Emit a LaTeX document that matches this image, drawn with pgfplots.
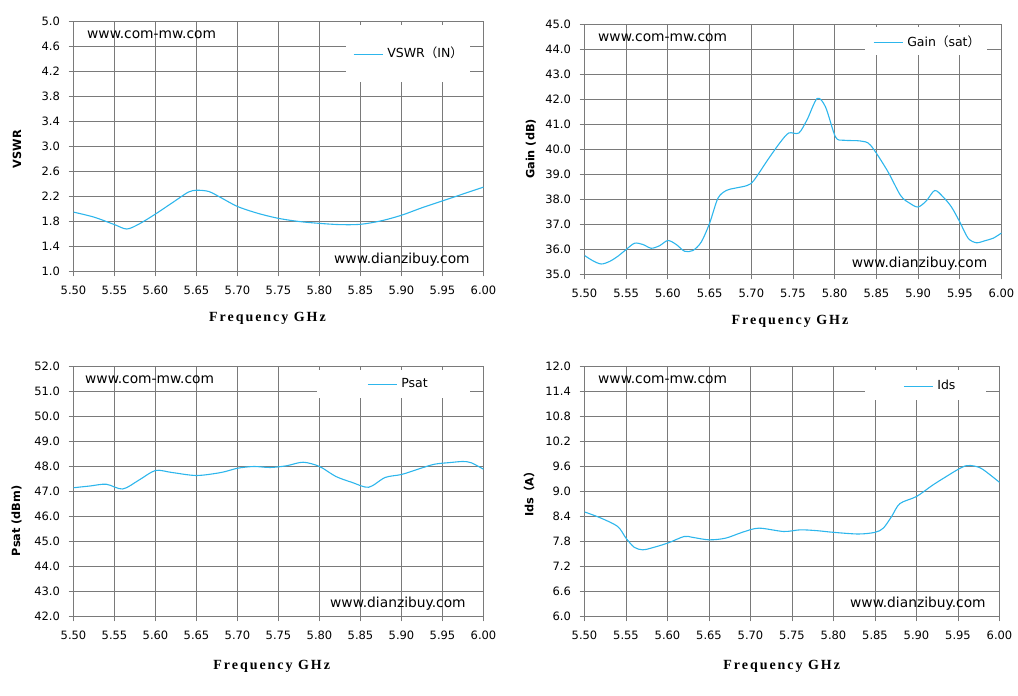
\documentclass[border=0pt]{standalone}
\usepackage{fontspec}
\usepackage{pgfplots}
\pgfplotsset{compat=1.18}
\setmainfont{DejaVu Sans}
\newfontfamily\cjk{Noto Sans CJK SC}
\newfontfamily\xlabfont[LetterSpace=14]{Liberation Serif}
\definecolor{curve}{HTML}{2DB6EC}
\definecolor{gridc}{HTML}{7A7A7A}

\pgfplotstableread{
f v
5.500 1.95
5.525 1.87
5.550 1.75
5.565 1.68
5.580 1.76
5.600 1.92
5.625 2.14
5.640 2.27
5.650 2.30
5.665 2.28
5.680 2.18
5.700 2.04
5.725 1.93
5.750 1.85
5.775 1.80
5.800 1.77
5.825 1.75
5.850 1.755
5.875 1.81
5.900 1.90
5.925 2.02
5.950 2.13
5.975 2.24
6.000 2.35
}\vswr

\pgfplotstableread{
f v
5.500 35.76
5.510 35.55
5.520 35.42
5.530 35.52
5.540 35.73
5.550 36.00
5.560 36.25
5.570 36.20
5.580 36.05
5.590 36.15
5.600 36.36
5.610 36.20
5.620 35.93
5.630 35.96
5.640 36.30
5.650 37.05
5.660 38.05
5.670 38.36
5.680 38.45
5.695 38.56
5.703 38.76
5.720 39.60
5.735 40.30
5.745 40.66
5.757 40.66
5.767 41.20
5.779 42.04
5.789 41.70
5.801 40.50
5.811 40.37
5.831 40.34
5.843 40.17
5.863 39.16
5.879 38.16
5.890 37.85
5.900 37.70
5.910 37.95
5.920 38.36
5.930 38.10
5.940 37.70
5.950 37.10
5.960 36.45
5.970 36.27
5.980 36.35
5.990 36.45
6.000 36.66
}\gain

\pgfplotstableread{
f v
5.500 47.15
5.520 47.22
5.540 47.29
5.560 47.10
5.580 47.46
5.600 47.84
5.620 47.76
5.650 47.64
5.680 47.76
5.700 47.93
5.720 48.00
5.740 47.96
5.760 48.03
5.780 48.17
5.800 48.00
5.820 47.60
5.840 47.36
5.860 47.17
5.880 47.56
5.900 47.68
5.920 47.89
5.940 48.09
5.960 48.16
5.975 48.20
5.985 48.15
6.000 47.89
}\psat

\pgfplotstableread{
f v
5.500 8.51
5.520 8.36
5.540 8.16
5.550 7.88
5.560 7.66
5.570 7.60
5.580 7.64
5.600 7.76
5.620 7.92
5.630 7.90
5.650 7.84
5.670 7.88
5.690 8.02
5.710 8.12
5.740 8.04
5.760 8.08
5.780 8.06
5.800 8.02
5.830 7.98
5.850 8.02
5.860 8.12
5.870 8.40
5.880 8.71
5.900 8.88
5.920 9.16
5.940 9.41
5.950 9.53
5.960 9.62
5.970 9.61
5.980 9.53
6.000 9.22
}\ids

\pgfplotsset{
  panel/.style={
    scale only axis, anchor=south west,
    xmin=5.5, xmax=6,
    xtick={5.5,5.55,5.6,5.65,5.7,5.75,5.8,5.85,5.9,5.95,6.0},
    x tick label style={/pgf/number format/fixed, /pgf/number format/fixed zerofill, /pgf/number format/precision=2, yshift=-6pt},
    y tick label style={/pgf/number format/fixed, /pgf/number format/fixed zerofill, /pgf/number format/precision=1, xshift=-5pt},
    /pgf/number format/assume math mode=true,
    tick label style={font=\fontsize{11.5}{13}\selectfont},
    grid=major, major grid style={gridc, line width=1pt},
    axis line style={gridc, line width=1pt},
    tick style={gridc, line width=1pt},
    tick align=outside, major tick length=5pt,
    xtick pos=left, ytick pos=left,
    legend cell align=left,
    legend style={draw=none, fill=none, inner sep=0pt, anchor=west,
      font=\fontsize{12.5}{14}\selectfont,
      nodes={inner sep=0pt, anchor=base west},
      /tikz/every odd column/.append style={column sep=4pt}},
    legend image code/.code={\draw[#1] (0pt,0.35em) -- (29pt,0.35em);},
  },
  crv/.style={curve, line width=1.1pt, smooth, no markers},
}

\begin{document}
\begin{tikzpicture}
\useasboundingbox (0,0) rectangle (1018pt,696pt);

% Panel 1: VSWR
\begin{axis}[panel, at={(73.5pt,424.5pt)}, width=410pt, height=250pt,
  ymin=1, ymax=5, ytick={1.0,1.4,1.8,2.2,2.6,3.0,3.4,3.8,4.2,4.6,5.0},
  legend style={at={(0.6817,0.874)}}]
\fill[white] (rel axis cs:0.6646,0.758) rectangle (rel axis cs:0.9671,0.986);
\addplot[crv] table[x=f,y=v] {\vswr};
\addlegendentry{VSWR{\cjk（}IN{\cjk）}}
\end{axis}

% Panel 2: Gain
\begin{axis}[panel, at={(584.5pt,421.5pt)}, width=417pt, height=250pt,
  ymin=35, ymax=45, ytick={35,36,37,38,39,40,41,42,43,44,45},
  legend style={at={(0.6918,0.9312)}}]
\fill[white] (rel axis cs:0.6727,0.878) rectangle (rel axis cs:0.9652,0.99);
\addplot[crv] table[x=f,y=v] {\gain};
\addlegendentry{Gain{\cjk（}sat{\cjk）}}
\end{axis}

% Panel 3: Psat
\begin{axis}[panel, at={(73.5pt,79.5pt)}, width=410pt, height=250pt,
  ymin=42, ymax=52, ytick={42,43,44,45,46,47,48,49,50,51,52},
  legend style={at={(0.7159,0.93)}}]
\fill[white] (rel axis cs:0.5939,0.874) rectangle (rel axis cs:0.9671,0.986);
\addplot[crv] table[x=f,y=v] {\psat};
\addlegendentry{Psat}
\end{axis}

% Panel 4: Ids
\begin{axis}[panel, at={(584.5pt,79.5pt)}, width=415pt, height=250pt,
  ymin=6, ymax=12, ytick={6.0,6.6,7.2,7.8,8.4,9.0,9.6,10.2,10.8,11.4,12.0},
  legend style={at={(0.7675,0.922)}}]
\fill[white] (rel axis cs:0.6759,0.866) rectangle (rel axis cs:0.9675,0.986);
\addplot[crv] table[x=f,y=v] {\ids};
\addlegendentry{Ids}
\end{axis}

% watermarks
\begin{scope}[every node/.style={inner sep=0pt, anchor=west, font=\fontsize{13.8}{16}\selectfont}]
\node at (87pt,661.7pt) {www.com-mw.com};
\node at (334pt,436pt) {www.dianzibuy.com};
\node at (598pt,658.7pt) {www.com-mw.com};
\node at (851.7pt,432.7pt) {www.dianzibuy.com};
\node at (85pt,316.7pt) {www.com-mw.com};
\node at (330pt,92.7pt) {www.dianzibuy.com};
\node at (598pt,316pt) {www.com-mw.com};
\node at (850pt,92.7pt) {www.dianzibuy.com};
\end{scope}

% y labels
\begin{scope}[every node/.style={inner sep=0pt, rotate=90, font=\bfseries\fontsize{11.3}{13}\selectfont}]
\node at (17pt,547pt) {VSWR};
\node at (530.7pt,547pt) {Gain (dB)};
\node at (16.7pt,175.2pt) {Psat (dBm)};
\node at (529pt,204.3pt) {Ids{\cjk\bfseries（}A{\cjk\bfseries）}};
\end{scope}

% x labels
\begin{scope}[every node/.style={inner sep=0pt, font=\xlabfont\bfseries\fontsize{14}{16}\selectfont}]
\node at (267.5pt,378pt) {Frequency GHz};
\node at (790pt,374.3pt) {Frequency GHz};
\node at (271.7pt,29.3pt) {Frequency GHz};
\node at (781.7pt,29.3pt) {Frequency GHz};
\end{scope}
\end{tikzpicture}
\end{document}
